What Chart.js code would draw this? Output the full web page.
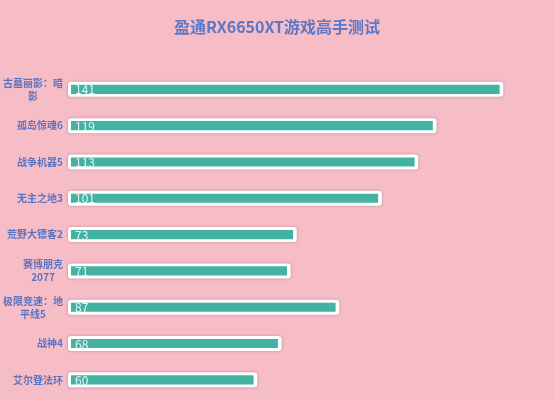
<!DOCTYPE html>
<html>
<head>
<meta charset="utf-8">
<script src="https://cdn.jsdelivr.net/npm/chart.js@4/dist/chart.umd.min.js"></script>
<style>
html,body{margin:0;padding:0;background:#f6bdc7;}
#wrap{width:554px;height:400px;position:relative;}
</style>
</head>
<body>
<div id="wrap"><canvas id="c"></canvas></div>
<script>
const categories = [
  ['古墓丽影：暗', '影'],
  '孤岛惊魂6',
  '战争机器5',
  '无主之地3',
  '荒野大镖客2',
  ['赛博朋克', '2077'],
  ['极限竞速：地', '平线5'],
  '战神4',
  '艾尔登法环'
];
const fpsValues = [141, 119, 113, 101, 73, 71, 87, 68, 60];
const chartTitle = '盈通RX6650XT游戏高手测试';

const FONT = '"Noto Sans CJK SC", "Noto Sans", sans-serif';

const framePlugin = {
  id: 'frame',
  beforeDatasetsDraw(chart) {
    const ctx = chart.ctx;
    const meta = chart.getDatasetMeta(0);
    ctx.save();
    meta.data.forEach(bar => {
      const left = bar.base - 3;
      const right = bar.x + 4;
      const top = bar.y - 7.5;
      const h = 15;
      ctx.shadowColor = 'rgba(90,90,90,0.45)';
      ctx.shadowBlur = 3;
      ctx.fillStyle = '#ffffff';
      ctx.beginPath();
      if (ctx.roundRect) ctx.roundRect(left, top, right - left, h, 3);
      else ctx.rect(left, top, right - left, h);
      ctx.fill();
    });
    ctx.restore();
  },
  afterDatasetsDraw(chart) {
    const ctx = chart.ctx;
    const meta = chart.getDatasetMeta(0);
    const data = chart.data.datasets[0].data;
    ctx.save();
    ctx.font = '12px ' + FONT;
    ctx.fillStyle = '#e6f5f1';
    ctx.textAlign = 'left';
    ctx.textBaseline = 'middle';
    meta.data.forEach((bar, i) => {
      ctx.fillText(String(data[i]), bar.base + 4, bar.y + 0.5);
    });
    // category labels: block right-aligned, lines centred within block
    const y = chart.scales.y;
    ctx.font = 'bold 10px ' + FONT;
    ctx.fillStyle = '#5a72c2';
    ctx.textAlign = 'center';
    const lh = 13;
    chart.data.labels.forEach((lab, i) => {
      const lines = Array.isArray(lab) ? lab : [lab];
      const w = Math.max(...lines.map(l => ctx.measureText(l).width));
      const cx = y.right - 8 - w / 2;
      const cy = y.getPixelForTick(i);
      const y0 = cy - (lines.length - 1) * lh / 2;
      lines.forEach((l, k) => ctx.fillText(l, cx, y0 + k * lh));
    });
    ctx.restore();
  }
};

new Chart(document.getElementById('c'), {
  type: 'bar',
  data: {
    labels: categories,
    datasets: [{
      data: fpsValues,
      backgroundColor: '#44b2a2',
      borderWidth: 0,
      barThickness: 8.5
    }]
  },
  options: {
    indexAxis: 'y',
    responsive: true,
    maintainAspectRatio: false,
    animation: false,
    devicePixelRatio: 1,
    layout: { padding: { left: 0, right: 0, top: 0, bottom: 2 } },
    plugins: {
      legend: { display: false },
      tooltip: { enabled: false },
      title: {
        display: true,
        text: chartTitle,
        color: '#5b77c6',
        font: { family: FONT, size: 16, weight: 'bold' },
        padding: { top: 17, bottom: 35 }
      }
    },
    scales: {
      x: {
        display: false,
        min: 0,
        max: 159
      },
      y: {
        grid: { display: false, drawTicks: false },
        border: { display: false },
        ticks: { display: false },
        afterFit(scale) {
          scale.width = 71;
          scale.paddingTop = 0;
          scale.paddingBottom = 0;
        }
      }
    }
  },
  plugins: [framePlugin]
});
</script>
</body>
</html>
